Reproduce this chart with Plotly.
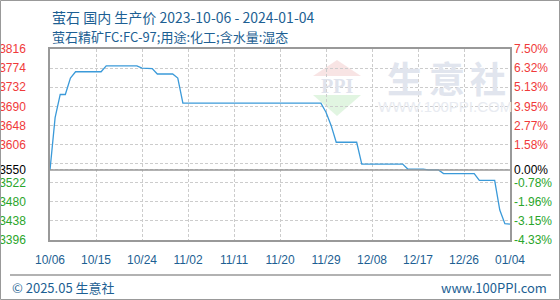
import plotly.graph_objects as go
import pandas as pd

# ---- data ----
start_date = "2023-10-06"
prices = [
    3550, 3665, 3716, 3716, 3752, 3766, 3766, 3766, 3766, 3766,
    3766, 3779, 3779, 3779, 3779, 3779, 3779, 3779, 3774, 3774,
    3773, 3761, 3761, 3761, 3761, 3752, 3697, 3697, 3697, 3697,
    3697, 3697, 3697, 3697, 3697, 3697, 3697, 3697, 3697, 3697,
    3697, 3697, 3697, 3697, 3697, 3697, 3697, 3697, 3697, 3697,
    3697, 3697, 3697, 3697, 3677, 3648, 3611, 3611, 3611, 3611,
    3611, 3563, 3563, 3563, 3563, 3563, 3563, 3563, 3563, 3563,
    3552, 3552, 3552, 3552, 3550, 3550, 3550, 3542, 3542, 3542,
    3542, 3542, 3542, 3542, 3527, 3527, 3527, 3527, 3462, 3432,
    3431,
]
dates = pd.date_range(start_date, periods=len(prices), freq="D")

x_tick_dates = ["2023-10-06", "2023-10-15", "2023-10-24", "2023-11-02", "2023-11-11",
                "2023-11-20", "2023-11-29", "2023-12-08", "2023-12-17", "2023-12-26",
                "2024-01-04"]
x_tick_labels = ["10/06", "10/15", "10/24", "11/02", "11/11", "11/20", "11/29",
                 "12/08", "12/17", "12/26", "01/04"]

base_price = 3550
y_tick_vals = [3396, 3438, 3480, 3522, 3550, 3564, 3606, 3648, 3690, 3732, 3774, 3816]
y_left_labels = ["3396", "3438", "3480", "3522", "3550", "", "3606", "3648", "3690",
                 "3732", "3774", "3816"]
y_right_labels = ["-4.33%", "-3.15%", "-1.96%", "-0.78%", "0.00%", "", "1.58%", "2.77%",
                  "3.95%", "5.13%", "6.32%", "7.50%"]

title1 = "萤石 国内 生产价 2023-10-06 - 2024-01-04"
title2 = "萤石精矿FC:FC-97;用途:化工;含水量:湿态"
footer_left = "© 2025.05 生意社"
footer_right = "www.100PPI.com"
watermark_chars = ["生", "意", "社"]

# ---- styling ----
W, H = 560, 300
L, R, T, B = 50, 510, 49, 240
RED, GREEN, BLACK = "#f03a3a", "#2aa52a", "#000000"
BLUE_TXT = "#1d5f93"
LINE = "#3b9ad9"
FONT = "Liberation Sans, Arial, sans-serif"
CJK = "Noto Sans CJK SC, sans-serif"


def col(v):
    return RED if v > base_price else (GREEN if v < base_price else BLACK)


left_text = [f"<span style='color:{col(v)}'>{t}</span>" for v, t in zip(y_tick_vals, y_left_labels)]
right_text = [f"<span style='color:{col(v)}'>{t}</span>" for v, t in zip(y_tick_vals, y_right_labels)]


def px(x):
    return (x - L) / (R - L)


def py(y):
    return (B - y) / (B - T)


fig = go.Figure()
fig.add_trace(go.Scatter(x=dates, y=prices, mode="lines",
                         line=dict(color=LINE, width=1.3), hoverinfo="skip"))
fig.add_trace(go.Scatter(x=dates, y=prices, mode="lines", yaxis="y2",
                         line=dict(color="rgba(0,0,0,0)", width=0), hoverinfo="skip"))

yr = [y_tick_vals[0], y_tick_vals[-1]]
fig.update_layout(
    width=W, height=H,
    margin=dict(l=L, r=W - R, t=T, b=H - B, autoexpand=False),
    paper_bgcolor="white", plot_bgcolor="white",
    showlegend=False,
    xaxis=dict(
        range=[dates[0], dates[-1]], automargin=False,
        tickvals=pd.to_datetime(x_tick_dates), ticktext=x_tick_labels,
        showgrid=True, gridcolor="#cccccc", griddash="3px,2px", gridwidth=1,
        showline=True, linecolor="#999999", linewidth=1.5, mirror=True,
        ticks="", ticklabelstandoff=8,
        tickfont=dict(family=FONT, size=12, color=BLUE_TXT),
        zeroline=False,
    ),
    yaxis=dict(
        range=yr, tickvals=y_tick_vals, ticktext=left_text, automargin=False,
        showgrid=True, gridcolor="#cccccc", griddash="3px,2px", gridwidth=1,
        showline=True, linecolor="#999999", linewidth=1.5, mirror=True,
        ticks="", ticklabelstandoff=20,
        tickfont=dict(family=FONT, size=12),
        zeroline=False,
    ),
    yaxis2=dict(
        range=yr, tickvals=y_tick_vals, ticktext=right_text, automargin=False,
        overlaying="y", side="right", showgrid=False, zeroline=False,
        ticks="", ticklabelstandoff=3,
        tickfont=dict(family=FONT, size=12),
    ),
)

# baseline
fig.add_shape(type="line", xref="paper", yref="y", x0=0, x1=1, y0=base_price, y1=base_price,
              line=dict(color="#999999", width=1.5))

# watermark logo
fig.add_shape(type="path", xref="paper", yref="paper", layer="below",
              path=f"M {px(313)} {py(76)} L {px(361)} {py(76)} L {px(337)} {py(60)} Z",
              fillcolor="rgba(240,195,195,0.45)", line=dict(width=0))
fig.add_shape(type="path", xref="paper", yref="paper", layer="below",
              path=f"M {px(313)} {py(95)} L {px(361)} {py(95)} L {px(337)} {py(116)} Z",
              fillcolor="rgba(195,235,195,0.5)", line=dict(width=0))
fig.add_annotation(x=px(337), y=py(86), xref="paper", yref="paper", text="<b>PPI</b>",
                   xanchor="center", yanchor="middle",
                   showarrow=False, font=dict(family="Liberation Serif", size=20, color="#dfe3ec"))
for cx, ch in zip([405, 447, 488], watermark_chars):
    fig.add_annotation(x=px(cx), y=py(77), xref="paper", yref="paper", text=f"<b>{ch}</b>",
                       xanchor="center", yanchor="middle",
                       showarrow=False, font=dict(family=CJK, size=36, color="#e1e5ee"))
fig.add_annotation(x=px(445), y=py(106), xref="paper", yref="paper", text="WWW.100PPI.COM",
                   xanchor="center", yanchor="middle",
                   showarrow=False, font=dict(family=FONT, size=15, color="#e8ebf1"))

# titles
fig.add_annotation(x=px(50), y=py(17), xref="paper", yref="paper", text=title1,
                   xanchor="left", yanchor="middle", showarrow=False,
                   font=dict(family=CJK, size=14, color=BLUE_TXT))
fig.add_annotation(x=px(50), y=py(36), xref="paper", yref="paper", text=title2,
                   xanchor="left", yanchor="middle", showarrow=False,
                   font=dict(family=CJK, size=13, color=BLUE_TXT))

# footer
fig.add_shape(type="line", xref="paper", yref="paper", x0=px(10), x1=px(551), y0=py(275), y1=py(275),
              line=dict(color="#999999", width=1.5))
fig.add_annotation(x=px(10), y=py(287), xref="paper", yref="paper", text=footer_left,
                   xanchor="left", yanchor="middle", showarrow=False,
                   font=dict(family=CJK, size=13, color=BLUE_TXT))
fig.add_annotation(x=px(549), y=py(287), xref="paper", yref="paper", text=footer_right,
                   xanchor="right", yanchor="middle", showarrow=False,
                   font=dict(family=CJK, size=13, color=BLUE_TXT))

# outer frame
fig.add_shape(type="rect", xref="paper", yref="paper", x0=px(0.5), x1=px(559.5), y0=py(0.5), y1=py(299.5),
              line=dict(color="#999999", width=1), fillcolor="rgba(0,0,0,0)")

fig.write_html("out.html")
